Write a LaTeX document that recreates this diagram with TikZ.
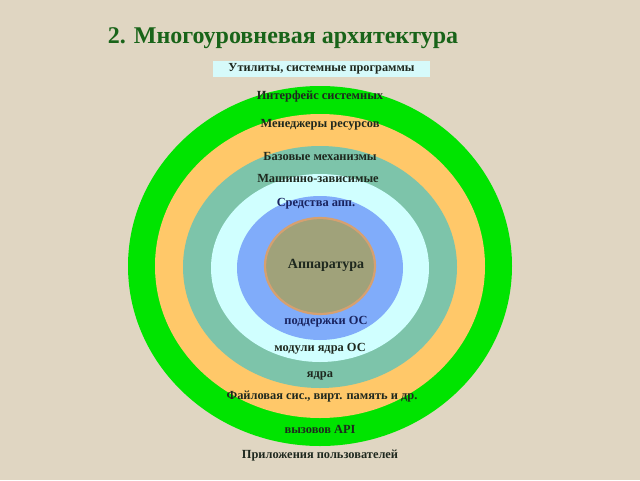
\documentclass[tikz,border=0pt]{standalone}
\usepackage{fontspec}
\setmainfont{Liberation Serif}
\definecolor{bg}{RGB}{224,214,194}
\definecolor{ringgreen}{RGB}{0,228,0}
\definecolor{ringorange}{RGB}{255,200,105}
\definecolor{ringteal}{RGB}{125,196,170}
\definecolor{ringcyan}{RGB}{208,255,255}
\definecolor{ringblue}{RGB}{128,172,250}
\definecolor{coreolive}{RGB}{160,162,122}
\definecolor{coreedge}{RGB}{214,160,112}
\definecolor{titlegreen}{RGB}{25,100,25}
\definecolor{txtdark}{RGB}{30,40,30}
\definecolor{txtnavy}{RGB}{25,35,95}
\definecolor{boxcyan}{RGB}{214,250,250}
\tikzset{
  lbl/.style={font=\fontsize{12.4}{14}\selectfont\bfseries, text=txtdark, inner sep=0pt},
  navylbl/.style={lbl, text=txtnavy},
}
\begin{document}
\begin{tikzpicture}[x=1pt,y=-1pt]
\fill[bg] (0,0) rectangle (640,480);
\useasboundingbox (0,0) rectangle (640,480);
% rings
\fill[ringgreen] (320,266) ellipse [x radius=192, y radius=180];
\fill[ringorange] (320,266) ellipse [x radius=165, y radius=152];
\fill[ringteal] (320,267) ellipse [x radius=137, y radius=121];
\fill[ringcyan] (320,268) ellipse [x radius=109, y radius=94];
\fill[ringblue] (320,268) ellipse [x radius=83, y radius=72];
\draw[coreedge, line width=2.2pt, fill=coreolive] (320,266) ellipse [x radius=55, y radius=48];
% title
\node[font=\fontsize{24}{28}\selectfont\bfseries, text=titlegreen, inner sep=0pt] (title) at (283,38) {2. Многоуровневая архитектура};
% top box
\node[fill=boxcyan, minimum width=217pt, minimum height=16pt, inner sep=0pt, font=\fontsize{12.3}{14}\selectfont\bfseries, text=txtdark] (util) at (321.5,69) {Утилиты, системные программы};
\node[lbl] (l1) at (320,97) {Интерфейс системных};
\node[lbl] (l2) at (320,125) {Менеджеры ресурсов};
\node[lbl] (l3) at (320,156) {Базовые механизмы};
\node[lbl] (l4) at (318,178) {Машинно-зависимые};
\node[navylbl] (l5) at (316,204) {Средства апп.};
\node[lbl, font=\fontsize{14}{16}\selectfont\bfseries] (core) at (326,265) {Аппаратура};
\node[navylbl] (l6) at (326,322) {поддержки ОС};
\node[lbl] (l7) at (320,349) {модули ядра ОС};
\node[lbl] (l8) at (320,376) {ядра};
\node[lbl] (l9) at (322,397) {Файловая сис., вирт. память и др.};
\node[lbl] (l10) at (320,429) {вызовов API};
\node[lbl] (l11) at (320,456) {Приложения пользователей};
\end{tikzpicture}
\end{document}
